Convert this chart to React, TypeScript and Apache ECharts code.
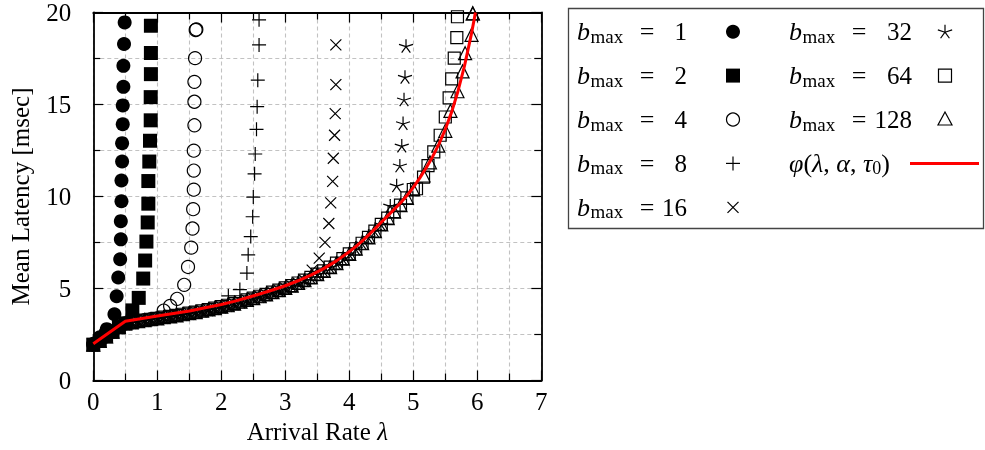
import React, { useEffect, useRef } from "react";
import * as echarts from "echarts";

const FONT = "'Liberation Serif', 'Times New Roman', serif";

// Shared measured points along the common curve (all batch sizes overlap here)
const sharedRate = [0, 0.1, 0.2, 0.3, 0.4, 0.5, 0.6, 0.7, 0.8, 0.9, 1.0, 1.1, 1.2, 1.3, 1.4, 1.5, 1.6, 1.7, 1.8, 1.9, 2.0, 2.1, 2.2, 2.3, 2.4, 2.5, 2.6, 2.7, 2.8, 2.9, 3.0, 3.1, 3.2, 3.3, 3.4, 3.5, 3.6, 3.7, 3.8, 3.9, 4.0, 4.1, 4.2, 4.3, 4.4, 4.5, 4.6, 4.7, 4.8, 4.9, 5.0];
const sharedLatency = [1.95, 2.15, 2.4, 2.65, 2.9, 3.1, 3.16, 3.22, 3.28, 3.33, 3.38, 3.44, 3.49, 3.54, 3.6, 3.66, 3.72, 3.79, 3.86, 3.93, 4.01, 4.09, 4.18, 4.28, 4.38, 4.48, 4.58, 4.68, 4.8, 4.91, 5.03, 5.16, 5.3, 5.45, 5.61, 5.78, 5.96, 6.16, 6.38, 6.62, 6.88, 7.16, 7.46, 7.78, 8.12, 8.48, 8.83, 9.18, 9.53, 9.93, 10.38];

// Model phi(lambda, alpha, tau0)
const modelRate = [0, 0.5, 1.0, 1.5, 2.0, 2.2, 2.4, 2.6, 2.8, 3.0, 3.2, 3.4, 3.6, 3.8, 4.0, 4.1, 4.2, 4.3, 4.4, 4.5, 4.6, 4.7, 4.8, 4.9, 5.0, 5.1, 5.2, 5.3, 5.4, 5.5, 5.6, 5.7, 5.8, 5.9, 5.95, 5.97];
const modelLatency = [2.0, 3.22, 3.5, 3.78, 4.13, 4.3, 4.5, 4.7, 4.92, 5.15, 5.42, 5.73, 6.08, 6.5, 7.0, 7.28, 7.58, 7.9, 8.24, 8.6, 8.95, 9.3, 9.65, 10.05, 10.5, 11.0, 11.55, 12.15, 12.85, 13.65, 14.6, 15.75, 17.1, 18.7, 19.6, 20.0];

// b_max = 1 (own points)
const b1Rate = [0, 0.1, 0.21, 0.33, 0.365, 0.39, 0.42, 0.43, 0.43, 0.44, 0.44, 0.45, 0.45, 0.46, 0.46, 0.47, 0.47, 0.48, 0.49];
const b1Latency = [2.0, 2.35, 2.79, 3.6, 4.58, 5.6, 6.59, 7.67, 8.66, 9.74, 10.87, 11.9, 12.9, 13.93, 14.95, 15.96, 17.1, 18.29, 19.46];

// tails after leaving the shared curve
const b2Rate = [0.61, 0.71, 0.78, 0.81, 0.83, 0.85, 0.86, 0.86, 0.875, 0.886, 0.897, 0.897, 0.9, 0.9, 0.9];
const b2Latency = [3.81, 4.49, 5.54, 6.52, 7.55, 8.59, 9.61, 10.84, 11.9, 13.03, 14.14, 15.4, 16.65, 17.8, 19.28];

const b4Rate = [1.1, 1.2, 1.31, 1.42, 1.48, 1.53, 1.55, 1.56, 1.57, 1.57, 1.57, 1.58, 1.58, 1.58, 1.59, 1.6, 1.61];
const b4Latency = [3.8, 4.05, 4.44, 5.2, 6.17, 7.22, 8.26, 9.31, 10.37, 11.41, 12.49, 13.87, 15.15, 16.23, 17.52, 19.05, 19.08];

const b8Rate = [2.11, 2.29, 2.4, 2.42, 2.46, 2.49, 2.5, 2.52, 2.53, 2.55, 2.56, 2.57, 2.59, 2.59];
const b8Latency = [4.6, 4.94, 5.84, 6.83, 7.82, 8.9, 9.97, 11.23, 12.31, 13.65, 14.88, 16.32, 18.24, 19.6];

const b16Rate = [3.42, 3.53, 3.62, 3.68, 3.71, 3.74, 3.75, 3.77, 3.78, 3.79, 3.79];
const b16Latency = [6.0, 6.65, 7.51, 8.53, 9.65, 10.82, 12.08, 13.33, 14.5, 16.08, 18.24];

const b32Rate = [4.64, 4.74, 4.79, 4.82, 4.84, 4.855, 4.87, 4.886];
const b32Latency = [9.5, 10.6, 11.68, 12.76, 13.98, 15.27, 16.5, 18.18];

const b64Rate = [5.05, 5.16, 5.23, 5.32, 5.42, 5.5, 5.56, 5.6, 5.64, 5.68, 5.69];
const b64Latency = [10.42, 11.05, 11.68, 12.43, 13.33, 14.32, 15.36, 16.39, 17.52, 18.63, 19.77];

const b128Rate = [5.16, 5.26, 5.39, 5.5, 5.58, 5.69, 5.77, 5.81, 5.91, 5.93, 5.93];
const b128Latency = [11.14, 11.86, 12.76, 13.57, 14.65, 15.72, 16.8, 17.79, 18.78, 19.95, 19.95];

const legendNumbers = ["1", "2", "4", "8", "16", "32", "64", "128"];

const PLUS = "path://M0,-1L0,1M-1,0L1,0";
const CROSS = "path://M-1,-1L1,1M-1,1L1,-1";
const STAR = "path://M0,0L0,-1M0,0L0.951,-0.309M0,0L0.588,0.809M0,0L-0.588,0.809M0,0L-0.951,-0.309";

function zip(xs: number[], ys: number[]) {
  return xs.map((x, i) => [x, ys[i]]);
}
function withShared(count: number, xs: number[], ys: number[]) {
  return zip(sharedRate.slice(0, count), sharedLatency.slice(0, count)).concat(zip(xs, ys));
}

type Def = { name: string; data: number[][]; symbol: string; size: number; filled: boolean };

const defs: Def[] = [
  { name: "b1", data: zip(b1Rate, b1Latency), symbol: "circle", size: 14, filled: true },
  { name: "b2", data: withShared(6, b2Rate, b2Latency), symbol: "rect", size: 14, filled: true },
  { name: "b4", data: withShared(11, b4Rate, b4Latency), symbol: "circle", size: 13, filled: false },
  { name: "b8", data: withShared(21, b8Rate, b8Latency), symbol: PLUS, size: 14, filled: false },
  { name: "b16", data: withShared(34, b16Rate, b16Latency), symbol: CROSS, size: 11, filled: false },
  { name: "b32", data: withShared(46, b32Rate, b32Latency), symbol: STAR, size: 14, filled: false },
  { name: "b64", data: withShared(51, b64Rate, b64Latency), symbol: "rect", size: 12, filled: false },
  { name: "b128", data: withShared(51, b128Rate, b128Latency), symbol: "triangle", size: 13, filled: false },
];

const rowY = [31.7, 75.6, 119.5, 163.4, 207.3];
const col1 = { bx: 577, eq: 647, num: 687, sym: 733 };
const col2 = { bx: 789, eq: 859, num: 912, sym: 945 };

function legendText(col: typeof col1, y: number, num: string) {
  return [
    { type: "text", x: col.bx, y, silent: true, style: { text: "b", fontFamily: FONT, fontSize: 26, fontStyle: "italic", fill: "#000", align: "left", verticalAlign: "middle" } },
    { type: "text", x: col.bx + 13.5, y: y + 4.5, silent: true, style: { text: "max", fontFamily: FONT, fontSize: 19, fill: "#000", align: "left", verticalAlign: "middle" } },
    { type: "text", x: col.eq, y, silent: true, style: { text: "=", fontFamily: FONT, fontSize: 26, fill: "#000", align: "center", verticalAlign: "middle" } },
    { type: "text", x: col.num, y, silent: true, style: { text: num, fontFamily: FONT, fontSize: 25, fill: "#000", align: "right", verticalAlign: "middle" } },
  ];
}

function legendGraphics() {
  const els: any[] = [];
  els.push({ type: "rect", silent: true, shape: { x: 568.5, y: 8.5, width: 415, height: 220 }, style: { fill: "#fff", stroke: "#444", lineWidth: 1.3 }, z: 10 });
  const ln = (x1: number, y1: number, x2: number, y2: number, color = "#000", w = 1.2) => ({
    type: "line", silent: true, z: 11, shape: { x1, y1, x2, y2 }, style: { stroke: color, lineWidth: w },
  });
  const texts: any[] = [];
  for (let i = 0; i < 5; i++) texts.push(...legendText(col1, rowY[i], legendNumbers[i]));
  for (let i = 0; i < 3; i++) texts.push(...legendText(col2, rowY[i], legendNumbers[5 + i]));
  texts.push({
    type: "text", x: col2.bx, y: rowY[3], silent: true,
    style: {
      text: "{i|φ}{r|(}{i|λ}{r|, }{i|α}{r|, }{i|τ}{s|0}{r|)}",
      fontFamily: FONT, fontSize: 26, fill: "#000", align: "left", verticalAlign: "middle",
      rich: {
        i: { fontFamily: FONT, fontSize: 26, fontStyle: "italic", fill: "#000", lineHeight: 28 },
        r: { fontFamily: FONT, fontSize: 26, fill: "#000", lineHeight: 28 },
        s: { fontFamily: FONT, fontSize: 18, fill: "#000", lineHeight: 19, verticalAlign: "bottom" },
      },
    },
  });
  texts.forEach((t) => (t.z = 11));
  els.push(...texts);
  const s = col1.sym;
  const t = col2.sym;
  els.push({ type: "circle", silent: true, z: 11, shape: { cx: s, cy: rowY[0], r: 7 }, style: { fill: "#000" } });
  els.push({ type: "rect", silent: true, z: 11, shape: { x: s - 7, y: rowY[1] - 7, width: 14, height: 14 }, style: { fill: "#000" } });
  els.push({ type: "circle", silent: true, z: 11, shape: { cx: s, cy: rowY[2], r: 6.5 }, style: { fill: "none", stroke: "#000", lineWidth: 1.2 } });
  els.push(ln(s - 7, rowY[3], s + 7, rowY[3]), ln(s, rowY[3] - 7, s, rowY[3] + 7));
  els.push(ln(s - 5.5, rowY[4] - 5.5, s + 5.5, rowY[4] + 5.5), ln(s - 5.5, rowY[4] + 5.5, s + 5.5, rowY[4] - 5.5));
  const sy = rowY[0] + 0.5;
  [[0, -1], [0.951, -0.309], [0.588, 0.809], [-0.588, 0.809], [-0.951, -0.309]].forEach(([dx, dy]) => {
    els.push(ln(t, sy, t + dx * 7.5, sy + dy * 7.5));
  });
  els.push({ type: "rect", silent: true, z: 11, shape: { x: t - 6.5, y: rowY[1] - 6.5, width: 13, height: 13 }, style: { fill: "none", stroke: "#000", lineWidth: 1.2 } });
  els.push({ type: "polygon", silent: true, z: 11, shape: { points: [[t, rowY[2] - 7.5], [t + 7, rowY[2] + 5.5], [t - 7, rowY[2] + 5.5]] }, style: { fill: "none", stroke: "#000", lineWidth: 1.2 } });
  els.push(ln(910, rowY[3], 979, rowY[3], "#ff0000", 3));
  return els;
}

export default function App() {
  const ref = useRef<HTMLDivElement>(null);
  useEffect(() => {
    if (!ref.current) return;
    const chart = echarts.init(ref.current, undefined, { renderer: "svg" });
    const gridLine = { color: "#c2c2c2", type: [4, 3] as any, width: 1.1 };
    const axisLineStyle = { color: "#000", width: 1.8 };
    const tickStyle = { color: "#000", width: 1.2 };
    const labelStyle = { fontFamily: FONT, fontSize: 25, color: "#000" };

    const scatterSeries = defs.map((d) => ({
      type: "scatter",
      name: d.name,
      data: d.data,
      symbol: d.symbol,
      symbolSize: d.size,
      symbolKeepAspect: true,
      silent: true,
      itemStyle: d.filled
        ? { color: "#000", borderColor: "#000", borderWidth: 0, opacity: 1 }
        : { color: "rgba(0,0,0,0)", borderColor: "#000", borderWidth: 1.2, opacity: 1 },
      emphasis: { disabled: true },
      z: 3,
    }));

    chart.setOption({
      animation: false,
      grid: { left: 93.3, right: 443.7, top: 9.3, bottom: 69.5, containLabel: false },
      xAxis: [
        {
          type: "value", min: 0, max: 7, interval: 1, position: "bottom",
          name: "{t|Arrival Rate }{l|λ}", nameLocation: "middle", nameGap: 38,
          nameTextStyle: {
            rich: {
              t: { fontFamily: FONT, fontSize: 25, color: "#000" },
              l: { fontFamily: FONT, fontSize: 25, fontStyle: "italic", color: "#000" },
            },
          },
          axisLine: { show: true, onZero: false, lineStyle: axisLineStyle },
          axisTick: { show: true, inside: true, length: 10, lineStyle: tickStyle },
          minorTick: { show: true, splitNumber: 2, length: 7, lineStyle: tickStyle },
          axisLabel: { ...labelStyle, margin: 8 },
          splitLine: { show: true, lineStyle: gridLine },
          minorSplitLine: { show: true, lineStyle: gridLine },
        },
        {
          type: "value", min: 0, max: 7, interval: 1, position: "top",
          axisLine: { show: true, onZero: false, lineStyle: axisLineStyle },
          axisTick: { show: true, inside: true, length: 10, lineStyle: tickStyle },
          minorTick: { show: true, splitNumber: 2, length: 7, lineStyle: tickStyle },
          axisLabel: { show: false },
          splitLine: { show: false },
        },
      ],
      yAxis: [
        {
          type: "value", min: 0, max: 20, interval: 5, position: "left",
          name: "Mean Latency [msec]", nameLocation: "middle", nameGap: 60,
          nameTextStyle: { fontFamily: FONT, fontSize: 25, color: "#000" },
          axisLine: { show: true, onZero: false, lineStyle: axisLineStyle },
          axisTick: { show: true, inside: true, length: 10, lineStyle: tickStyle },
          minorTick: { show: true, splitNumber: 2, length: 7, lineStyle: tickStyle },
          axisLabel: { ...labelStyle, margin: 22 },
          splitLine: { show: true, lineStyle: gridLine },
          minorSplitLine: { show: true, lineStyle: gridLine },
        },
        {
          type: "value", min: 0, max: 20, interval: 5, position: "right",
          axisLine: { show: true, onZero: false, lineStyle: axisLineStyle },
          axisTick: { show: true, inside: true, length: 10, lineStyle: tickStyle },
          minorTick: { show: true, splitNumber: 2, length: 7, lineStyle: tickStyle },
          axisLabel: { show: false },
          splitLine: { show: false },
        },
      ],
      series: [
        ...scatterSeries,
        {
          type: "line",
          name: "model",
          data: zip(modelRate, modelLatency),
          showSymbol: false,
          symbol: "none",
          silent: true,
          lineStyle: { color: "#ff0000", width: 3 },
          emphasis: { disabled: true },
          z: 5,
        },
      ],
      graphic: legendGraphics(),
    } as any);
    return () => chart.dispose();
  }, []);
  return <div ref={ref} style={{ position: "fixed", left: 0, top: 0, width: 985, height: 450 }} />;
}
